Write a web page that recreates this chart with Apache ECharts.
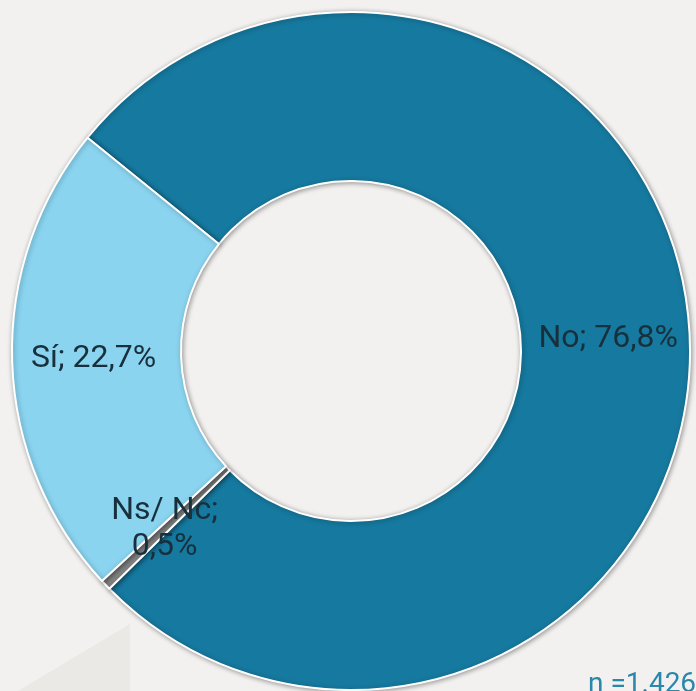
<!DOCTYPE html>
<html>
<head>
<meta charset="utf-8">
<script src="https://cdn.jsdelivr.net/npm/echarts@6/dist/echarts.min.js"></script>
<style>
  html, body { margin: 0; padding: 0; background: #f2f1ef; }
  #main { width: 696px; height: 691px; }
</style>
</head>
<body>
<div id="main"></div>
<script>
// data, in drawing order (clockwise from the top-left border)
var categories = ['No', 'Ns/ Nc', 'Sí'];
var values = [76.8, 0.5, 22.7];
var labelTexts = ['No; 76,8%', 'Ns/ Nc;\n0,5%', 'Sí; 22,7%'];
var sliceColors = ['#16799f', '#858585', '#8ad4f0'];
var sampleNote = 'n =1.426';

var chart = echarts.init(document.getElementById('main'));

var pieData = categories.map(function (name, i) {
  return {
    name: name,
    value: values[i],
    itemStyle: { color: sliceColors[i] },
    label: { formatter: labelTexts[i] }
  };
});

var option = {
  backgroundColor: '#f2f1ef',
  animation: false,
  graphic: [
    {
      type: 'polygon',
      z: -1,
      shape: { points: [[130, 624], [130, 691], [18, 691]] },
      style: { fill: '#ebe9e5' }
    },
    {
      type: 'text',
      left: 588,
      top: 671,
      style: {
        text: sampleNote,
        fill: '#2a87ab',
        font: '28px Roboto'
      }
    }
  ],
  series: [{
    type: 'pie',
    center: [351, 351],
    radius: [170, 339],
    startAngle: 141,
    clockwise: true,
    avoidLabelOverlap: false,
    itemStyle: {
      borderColor: '#ffffff',
      borderWidth: 2,
      shadowBlur: 5,
      shadowColor: 'rgba(0,0,0,0.35)',
      shadowOffsetX: 1,
      shadowOffsetY: 1
    },
    label: {
      show: true,
      position: 'inside',
      color: '#17303c',
      fontFamily: 'Roboto',
      fontSize: 32,
      lineHeight: 36
    },
    labelLine: { show: false },
    data: pieData
  }]
};

chart.setOption(option);
</script>
</body>
</html>
